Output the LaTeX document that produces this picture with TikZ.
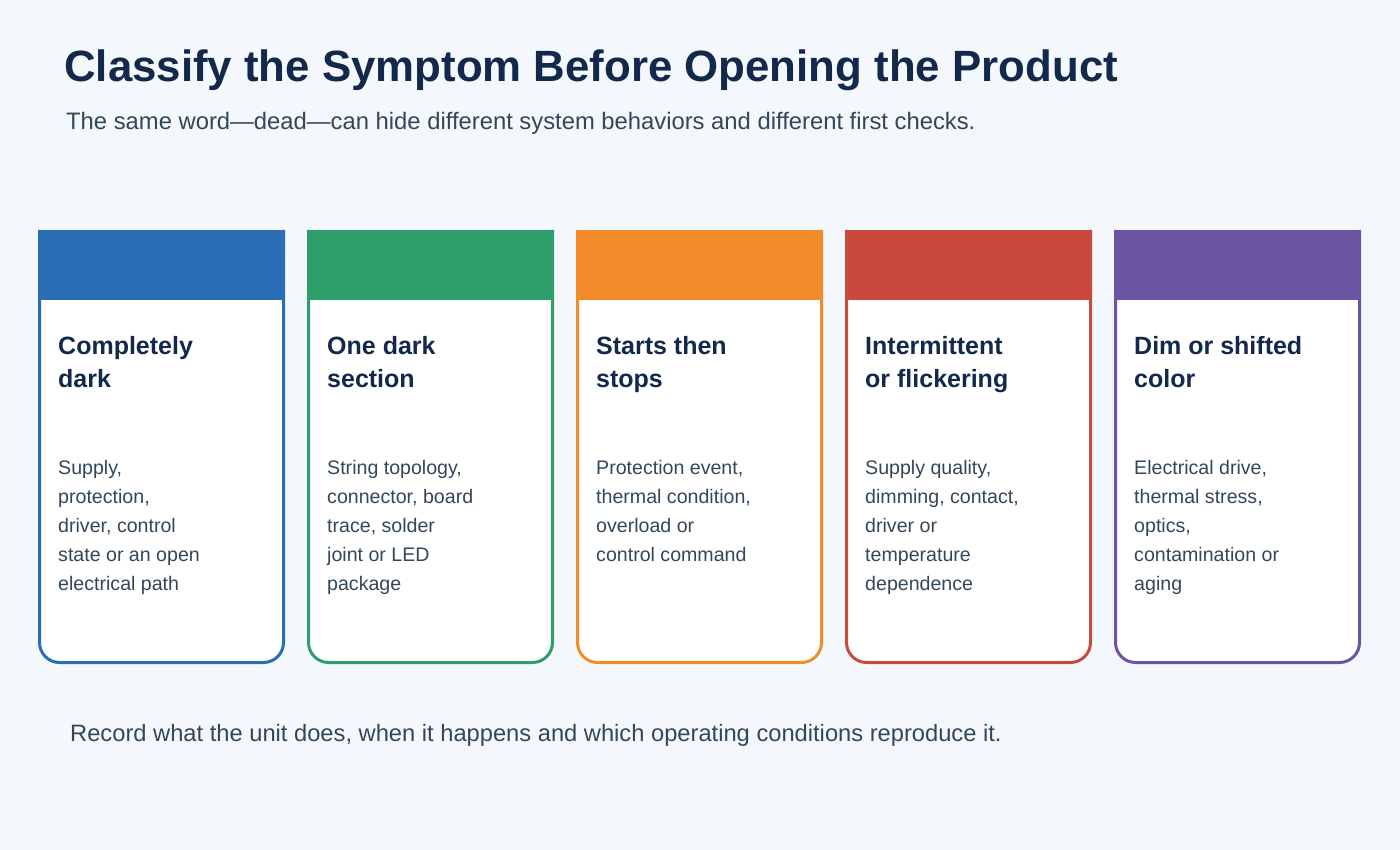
\documentclass[tikz,border=0pt]{standalone}
\usepackage{fontspec}
\setmainfont{Liberation Sans}
\definecolor{bg}{HTML}{F4F7FB}
\definecolor{ttl}{HTML}{13294B}
\definecolor{txt}{HTML}{33475B}
\definecolor{cA}{HTML}{2A6DB5}
\definecolor{cB}{HTML}{2E9E6B}
\definecolor{cC}{HTML}{F28C2B}
\definecolor{cD}{HTML}{C94A3D}
\definecolor{cE}{HTML}{6A55A5}
\tikzset{
 ctitle/.style={anchor=base west,text=ttl,font=\fontsize{25}{33}\selectfont\bfseries,inner sep=0},
 cbody/.style={anchor=base west,text=txt,font=\fontsize{19.6}{29}\selectfont,inner sep=0},
}
\newcommand{\tl}[1]{\begin{tabular}[t]{@{}l@{}}#1\end{tabular}}
\newcommand{\card}[5]{% x, color, name, title, body
 \fill[white,rounded corners=20] (#1,230) -- (#1,664) -- (#1+247,664) -- (#1+247,230) -- cycle;
 \fill[#2] (#1,230) rectangle (#1+247,300);
 \draw[#2,line width=3,rounded corners=20] (#1+1.5,230) -- (#1+1.5,662.5) -- (#1+245.5,662.5) -- (#1+245.5,230);
 \node[ctitle] (#3t) at (#1+20,354) {\tl{#4}};
 \node[cbody] (#3b) at (#1+20,474) {\tl{#5}};
}
\begin{document}
\begin{tikzpicture}[x=1pt,y=-1pt]
\fill[bg] (0,0) rectangle (1400,850);
\node[anchor=base west,inner sep=0,text=ttl,font=\fontsize{43.8}{50}\selectfont\bfseries] (title) at (64,82) {Classify the Symptom Before Opening the Product};
\node[anchor=base west,inner sep=0,text=txt,font=\fontsize{23.8}{26}\selectfont] (sub) at (66,130) {The same word—dead—can hide different system behaviors and different first checks.};
\card{38}{cA}{a}{Completely\\dark}{Supply,\\protection,\\driver, control\\state or an open\\electrical path}
\card{307}{cB}{b}{One dark\\section}{String topology,\\connector, board\\trace, solder\\joint or LED\\package}
\card{576}{cC}{c}{Starts then\\stops}{Protection event,\\thermal condition,\\overload or\\control command}
\card{845}{cD}{d}{Intermittent\\or flickering}{Supply quality,\\dimming, contact,\\driver or\\temperature\\dependence}
\card{1114}{cE}{e}{Dim or shifted\\color}{Electrical drive,\\thermal stress,\\optics,\\contamination or\\aging}
\node[anchor=base west,inner sep=0,text=txt,font=\fontsize{23.7}{26}\selectfont] (foot) at (70,741) {Record what the unit does, when it happens and which operating conditions reproduce it.};
\end{tikzpicture}
\end{document}
